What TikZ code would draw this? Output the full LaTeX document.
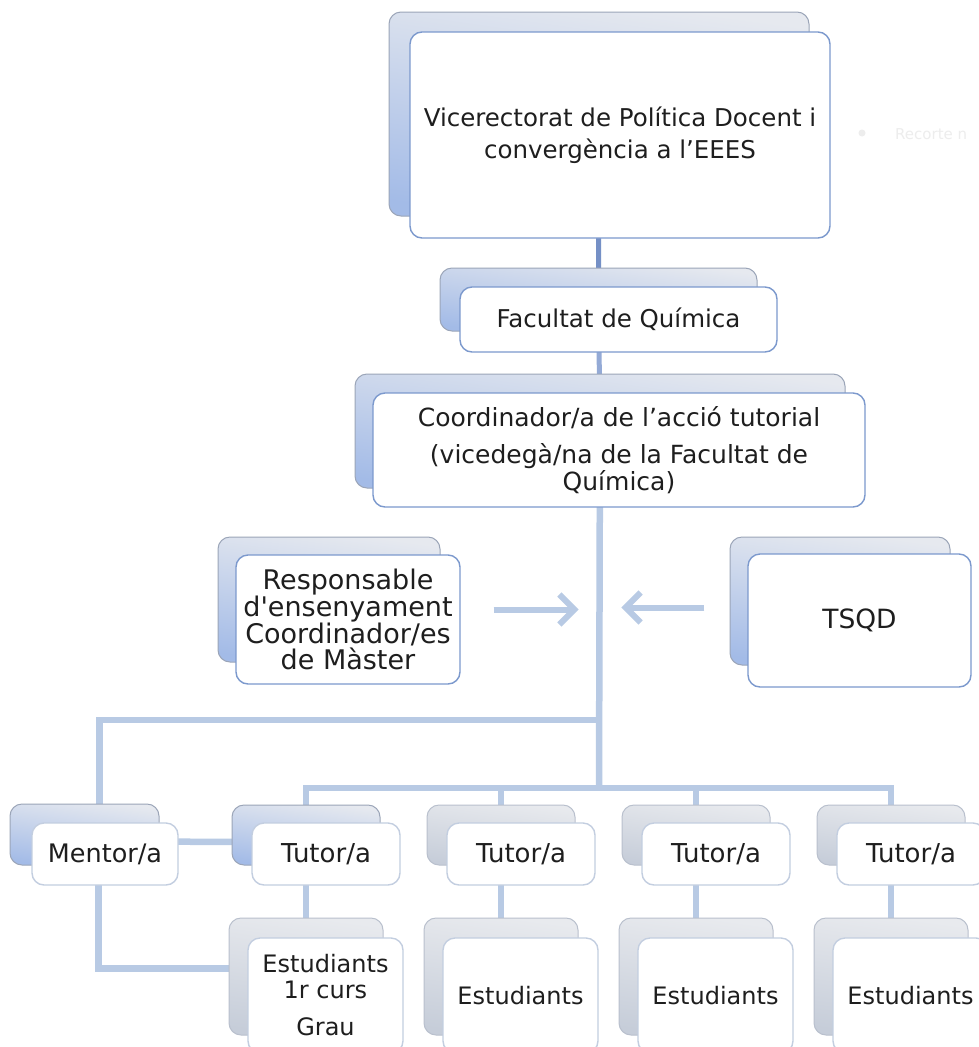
\documentclass[tikz,border=0pt]{standalone}
\usepackage{fontspec}
\setmainfont{DejaVu Sans}
\usetikzlibrary{arrows.meta}
\pgfdeclarelayer{bg}
\pgfdeclarelayer{paper}
\pgfsetlayers{paper,bg,main}
\definecolor{lnk}{HTML}{B8CAE4}
\definecolor{lnkd}{HTML}{7590C6}
\definecolor{lnkm}{HTML}{94AAD6}
\definecolor{bordB}{HTML}{7C99CD}
\definecolor{bordL}{HTML}{C3CEE0}
\definecolor{backline}{HTML}{9BA5B8}
\definecolor{backTop}{HTML}{E6E9EF}
\definecolor{backBot}{HTML}{A3BBE7}
\definecolor{grayTop}{HTML}{E8EAEE}
\definecolor{grayBot}{HTML}{C6CDD9}
\definecolor{txt}{HTML}{1E1E1E}
\definecolor{faint}{HTML}{EDEDED}
\newcommand\backbox[6]{\node[#2, minimum width={#5-#3}, minimum height={#6-#4}] (#1) at ({(#3+#5)/2},{(#4+#6)/2}) {};}
\newcommand\frontbox[7]{\node[#2, minimum width={#5-#3}, minimum height={#6-#4}] (#1) at ({(#3+#5)/2},{(#4+#6)/2}) {#7};}
\begin{document}
\begin{tikzpicture}[x=1pt,y=-1pt,
  backblue/.style={draw=backline, line width=1pt, rounded corners=12pt, inner sep=0pt,
    top color=backTop, bottom color=backBot, shading angle=-8},
  backgray/.style={draw=backline!70, line width=1pt, rounded corners=12pt, inner sep=0pt,
    top color=grayTop, bottom color=grayBot, shading angle=-8},
  frontB/.style={draw=bordB, line width=1.4pt, fill=white, rounded corners=12pt, inner sep=0pt,
    align=center, text=txt, font=\fontsize{24}{28}\selectfont},
  frontL/.style={frontB, draw=bordL},
  lnkline/.style={draw=lnk, line width=6.5pt},
  arrowline/.style={draw=lnk, line width=6pt, -{Straight Barb[length=15pt,width=30pt]}}
]
\useasboundingbox (0,0) rectangle (978,1047);
\begin{pgfonlayer}{paper}
\fill[white] (0,0) rectangle (978,1047);
\end{pgfonlayer}

% faint screenshot remnant
\fill[faint] (862,133) circle (3.5);
\node[text=faint, font=\fontsize{15}{18}\selectfont, anchor=west, inner sep=0pt] (rec) at (895,134) {Recorte n};

% top levels
\backbox{viceb}{backblue}{389}{12}{809}{216}
\frontbox{vice}{frontB, font=\fontsize{24.5}{32}\selectfont}{410}{32}{830}{238}{Vicerectorat de Política Docent i\\convergència a l’EEES}
\backbox{facb}{backblue}{440}{268}{757}{331}
\frontbox{fac}{frontB, font=\fontsize{24.5}{28}\selectfont}{460}{287}{777}{352}{Facultat de Química}
\backbox{coordb}{backblue}{355}{374}{845}{488}
\frontbox{coord}{frontB, font=\fontsize{25}{37}\selectfont}{373}{393}{865}{507}{Coordinador/a de l’acció tutorial\\(vicedegà/na de la Facultat de\\[-10pt]Química)}

% side boxes
\backbox{respb}{backblue}{218}{537}{440}{662}
\frontbox{resp}{frontB, font=\fontsize{27}{26}\selectfont}{236}{555}{460}{684}{Responsable\\d\textquotesingle ensenyament\\Coordinador/es\\de Màster}
\backbox{tsqdb}{backblue}{730}{537}{950}{665}
\frontbox{tsqd}{frontB, font=\fontsize{26.5}{30}\selectfont}{748}{554}{971}{687}{TSQD}

% mentor
\backbox{mentorb}{backblue}{10}{804}{159}{865}
\frontbox{mentor}{frontL, font=\fontsize{25.5}{28}\selectfont}{32}{823}{178}{885}{Mentor/a}

% tutors
\backbox{tut1b}{backblue}{232}{805}{380}{865}
\frontbox{tut1}{frontL, font=\fontsize{26}{28}\selectfont}{252}{823}{400}{885}{Tutor/a}
\backbox{tut2b}{backgray}{427}{805}{575}{865}
\frontbox{tut2}{frontL, font=\fontsize{26}{28}\selectfont}{447}{823}{595}{885}{Tutor/a}
\backbox{tut3b}{backgray}{622}{805}{770}{865}
\frontbox{tut3}{frontL, font=\fontsize{26}{28}\selectfont}{642}{823}{790}{885}{Tutor/a}
\backbox{tut4b}{backgray}{817}{805}{965}{865}
\frontbox{tut4}{frontL, font=\fontsize{26}{28}\selectfont}{837}{823}{985}{885}{Tutor/a}

% students
\backbox{est1b}{backgray}{229}{918}{383}{1035}
\frontbox{est1}{frontL, font=\fontsize{24}{26}\selectfont}{248}{938}{403}{1053}{Estudiants\\1r curs\\[11pt]Grau}
\backbox{est2b}{backgray}{424}{918}{578}{1035}
\frontbox{est2}{frontL}{443}{938}{598}{1053}{Estudiants}
\backbox{est3b}{backgray}{619}{918}{773}{1035}
\frontbox{est3}{frontL}{638}{938}{793}{1053}{Estudiants}
\backbox{est4b}{backgray}{814}{918}{968}{1035}
\frontbox{est4}{frontL}{833}{938}{988}{1053}{Estudiants}

% connectors
\coordinate (hub) at (599,720);
\coordinate (bus) at (599,788);
\begin{pgfonlayer}{bg}
  \draw[draw=lnkd, line width=5pt] (viceb.center) -- (facb.center);
  \draw[draw=lnkm, line width=5pt] (facb.center) -- (coordb.center);
  \draw[lnkline] (coordb.center) -- (bus);
  \draw[lnkline] ([xshift=15pt]mentorb.center) |- (hub);
  \draw[lnkline] (tut1b.center) -- (tut1b.center |- bus) -- (tut4b.center |- bus) -- (tut4b.center);
  \draw[lnkline] (tut2b.center) -- (tut2b.center |- bus);
  \draw[lnkline] (tut3b.center) -- (tut3b.center |- bus);
  \draw[lnkline] ([yshift=-7pt]mentorb.center) -- ([yshift=-7pt]tut1b.center);
  \draw[lnkline] ([xshift=14pt]mentorb.center) |- ([yshift=8pt]est1b.center);
  \draw[lnkline] (tut1b.center) -- (est1b.center);
  \draw[lnkline] (tut2b.center) -- (est2b.center);
  \draw[lnkline] (tut3b.center) -- (est3b.center);
  \draw[lnkline] (tut4b.center) -- (est4b.center);
\end{pgfonlayer}

% arrows towards the main line
\draw[arrowline] ([xshift=33pt,yshift=10pt]resp.east) -- ([xshift=118pt,yshift=10pt]resp.east);
\draw[arrowline] ([xshift=-43pt,yshift=13pt]tsqd.west) -- ([xshift=-126pt,yshift=13pt]tsqd.west);
\end{tikzpicture}
\end{document}
